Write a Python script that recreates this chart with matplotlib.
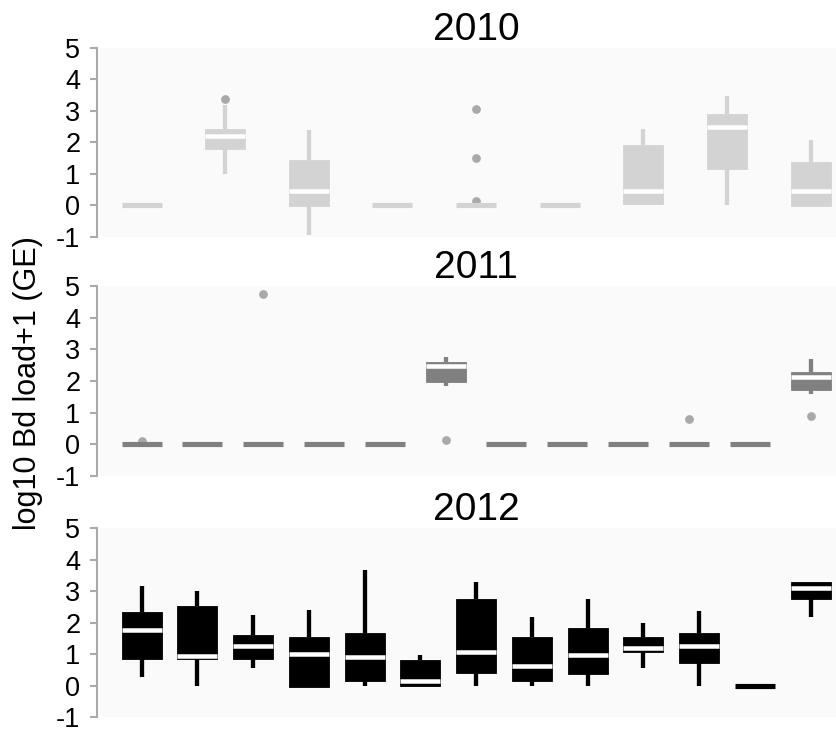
import matplotlib
matplotlib.use("Agg")
import matplotlib.pyplot as plt
from matplotlib.patches import Rectangle

plt.rcParams['font.family'] = ['Liberation Sans', 'DejaVu Sans']
plt.rcParams['axes.unicode_minus'] = False

# ---------------- data ----------------
years = ["2010", "2011", "2012"]

# 2010 (9 groups)
lo_2010  = [0.0, 1.00, -0.95, 0.0, 0.0, 0.0, 0.00, 0.00, 0.00]
q1_2010  = [0.0, 1.78, -0.03, 0.0, 0.0, 0.0, 0.04, 1.14, -0.03]
med_2010 = [0.0, 2.20,  0.45, 0.0, 0.0, 0.0, 0.45, 2.49, 0.45]
q3_2010  = [0.0, 2.42,  1.42, 0.0, 0.0, 0.0, 1.92, 2.90, 1.36]
hi_2010  = [0.0, 3.18,  2.40, 0.0, 0.0, 0.0, 2.42, 3.46, 2.07]
out_2010 = [[], [3.36], [], [], [3.04, 1.49, 0.13], [], [], [], []]

# 2011 (12 groups)
lo_2011  = [0, 0, 0, 0, 0, 1.84, 0, 0, 0, 0, 0, 1.59]
q1_2011  = [0, 0, 0, 0, 0, 1.98, 0, 0, 0, 0, 0, 1.71]
med_2011 = [0, 0, 0, 0, 0, 2.47, 0, 0, 0, 0, 0, 2.13]
q3_2011  = [0, 0, 0, 0, 0, 2.61, 0, 0, 0, 0, 0, 2.27]
hi_2011  = [0, 0, 0, 0, 0, 2.77, 0, 0, 0, 0, 0, 2.68]
out_2011 = [[0.10], [], [4.74], [], [], [0.14], [], [], [], [0.80], [], [0.90]]

# 2012 (13 groups)
lo_2012  = [0.29, 0.00, 0.57, -0.05, 0.00, 0.00, 0.00, 0.00, 0.00, 0.55, 0.00, 0.0, 2.19]
q1_2012  = [0.84, 0.84, 0.84, -0.05, 0.14, 0.00, 0.42, 0.14, 0.36, 1.06, 0.71, 0.0, 2.75]
med_2012 = [1.76, 0.96, 1.27,  1.00, 0.92, 0.15, 1.06, 0.64, 0.99, 1.20, 1.27, 0.0, 3.09]
q3_2012  = [2.33, 2.54, 1.62,  1.56, 1.69, 0.82, 2.74, 1.55, 1.84, 1.56, 1.69, 0.0, 3.30]
hi_2012  = [3.17, 3.02, 2.25,  2.40, 3.68, 0.97, 3.30, 2.19, 2.74, 1.98, 2.38, 0.0, 3.30]
out_2012 = [[] for _ in range(13)]

box_colors = ["#d3d3d3", "#808080", "#000000"]
outlier_color = "#a9a9a9"

panels = [
    (lo_2010, q1_2010, med_2010, q3_2010, hi_2010, out_2010),
    (lo_2011, q1_2011, med_2011, q3_2011, hi_2011, out_2011),
    (lo_2012, q1_2012, med_2012, q3_2012, hi_2012, out_2012),
]

# ---------------- layout ----------------
W, H = 836, 734
fig = plt.figure(figsize=(W / 100, H / 100), dpi=100)

ax_left_px, ax_right_px = 100, 852   # plot area extends past the cropped right edge
tops = [47.7, 286.0, 528.3]
bottoms = [236.7, 476.0, 717.3]
pad_px = 41.5
box_px = 40.0

for k, (lo, q1, med, q3, hi, outs) in enumerate(panels):
    ax = fig.add_axes([ax_left_px / W, 1 - bottoms[k] / H,
                       (ax_right_px - ax_left_px) / W, (bottoms[k] - tops[k]) / H])
    ax.set_facecolor("#fafafa")
    n = len(med)
    s = (ax_right_px - ax_left_px - 2 * pad_px) / (n - 1)   # px per category
    w = box_px / s
    color = box_colors[k]

    for i in range(n):
        # outliers (behind boxes)
        if outs[i]:
            ax.plot([i] * len(outs[i]), outs[i], 'o', color=outlier_color,
                    markersize=6.3, markeredgewidth=0, zorder=1)
        if q3[i] - q1[i] < 1e-9:
            ax.plot([i - w / 2, i + w / 2], [med[i], med[i]], color=color,
                    lw=3.7, solid_capstyle='butt', zorder=3)
            continue
        if hi[i] > q3[i]:
            ax.plot([i, i], [q3[i], hi[i]], color=color, lw=3.1,
                    solid_capstyle='butt', zorder=2)
        if lo[i] < q1[i]:
            ax.plot([i, i], [lo[i], q1[i]], color=color, lw=3.1,
                    solid_capstyle='butt', zorder=2)
        ax.add_patch(Rectangle((i - w / 2, q1[i]), w, q3[i] - q1[i],
                               facecolor=color, edgecolor=color, lw=0.6, zorder=3))
        ax.plot([i - w / 2, i + w / 2], [med[i], med[i]], color="white",
                lw=3.25, solid_capstyle='butt', zorder=4)

    ax.set_xlim(-pad_px / s, n - 1 + pad_px / s)
    ax.set_ylim(-1, 5)
    ax.set_yticks(range(-1, 6))
    ax.set_xticks([])
    for side in ["top", "right", "bottom"]:
        ax.spines[side].set_visible(False)
    ax.spines["left"].set_position(("outward", 2.3))
    ax.spines["left"].set_color("#aaaaaa")
    ax.spines["left"].set_linewidth(1.5)
    ax.tick_params(axis="y", length=4.8, width=1.5, color="#aaaaaa",
                   labelsize=19.5, pad=7, labelcolor="black")
    ax.set_title(years[k], fontsize=28, pad=4.5)

fig.text(0.034, 0.478, "log10 Bd load+1 (GE)", rotation=90, fontsize=22,
         ha="center", va="center")

fig.savefig("out.png", dpi=100)
